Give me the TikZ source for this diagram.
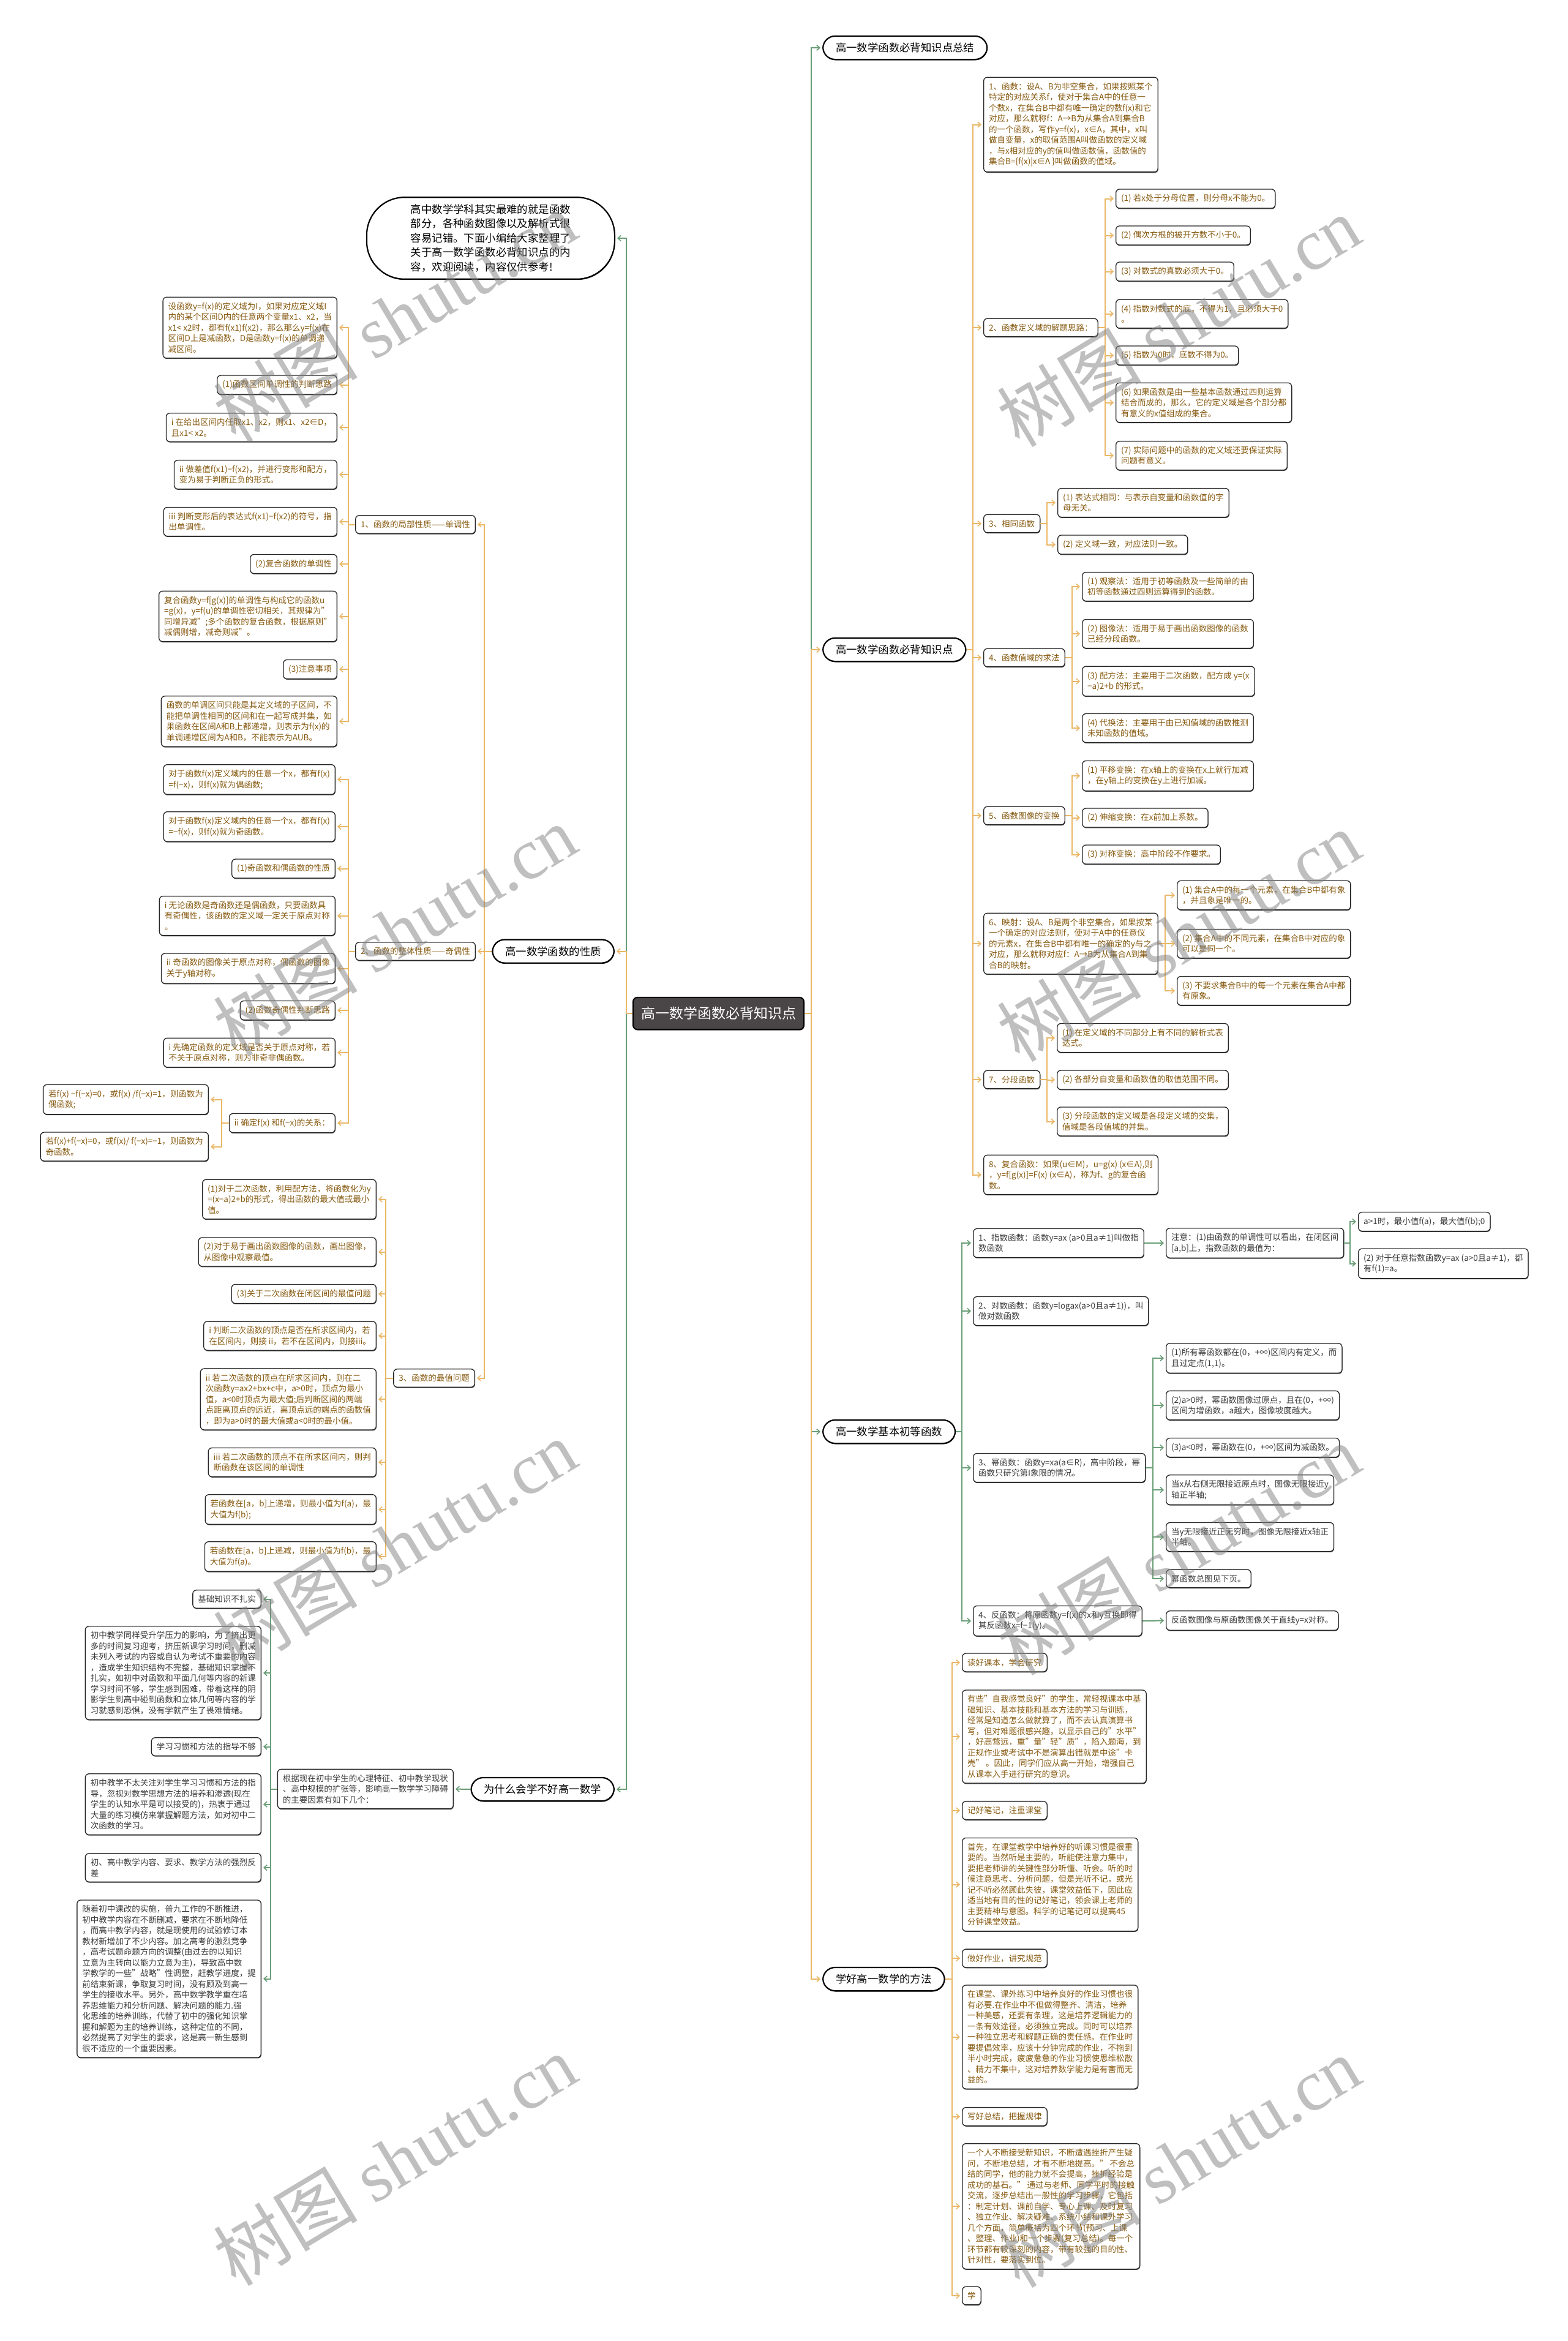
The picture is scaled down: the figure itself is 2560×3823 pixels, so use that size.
\documentclass[tikz,border=0pt]{standalone}
\usepackage{fontspec}
\setmainfont{Noto Sans CJK SC}
\newfontfamily\wmserif{Liberation Serif}
\usetikzlibrary{arrows.meta,shadows}
\definecolor{oline}{HTML}{EAB868}
\definecolor{gline}{HTML}{6A9E77}
\definecolor{otext}{HTML}{875A10}
\definecolor{gtext}{HTML}{3A3A3A}
\definecolor{rootfill}{HTML}{4A4546}
\tikzset{
 shad/.style={drop shadow={shadow xshift=0.6pt, shadow yshift=-1.4pt, fill=black!75, opacity=1}},
 box/.style={shad, draw=black!85, line width=1.3pt, fill=white, rounded corners=6pt, align=left,
   font=\fontsize{13.5}{17.5}\selectfont, inner xsep=8.5pt, inner ysep=8.5pt},
 leafo/.style={box, text=otext},
 leafg/.style={box, text=gtext},
 lvlone/.style={shad, draw=black, line width=2.2pt, fill=white, rounded corners=20pt, text=black,
   font=\fontsize{17.4}{23.5}\selectfont, inner xsep=21pt, inner ysep=11pt},
 intronode/.style={lvlone, rounded corners=62pt, align=left, inner xsep=72pt, inner ysep=11.5pt},
 rootnode/.style={shad, draw=black, line width=2pt, fill=rootfill, rounded corners=7pt, text=white,
   font=\fontsize{23}{28}\selectfont, inner xsep=13pt, inner ysep=15.5pt},
 oarr/.style={draw=oline, line width=2pt, shorten >=3pt, -{Straight Barb[length=5pt,width=9pt,line width=1.6pt]}},
 garr/.style={draw=gline, line width=2pt, shorten >=3pt, -{Straight Barb[length=5pt,width=9pt,line width=1.6pt]}},
 wmark/.style={text=black!50, text opacity=0.5, font=\fontsize{118}{118}\selectfont, rotate=31, inner sep=0pt}
}
\begin{document}
\begin{tikzpicture}[x=1pt,y=-1pt]
\useasboundingbox (0,0) rectangle (2560,3823);
\fill[white] (0,0) rectangle (2560,3823);

% ---------- root and first level ----------
\node[rootnode] (root) at (1173.5,1655) {高一数学函数必背知识点};
\node[lvlone, anchor=west] (t1) at (1343,78) {高一数学函数必背知识点总结};
\node[lvlone, anchor=west] (b2) at (1343,1061) {高一数学函数必背知识点};
\node[lvlone, anchor=west] (b3) at (1343,2338) {高一数学基本初等函数};
\node[lvlone, anchor=west] (b4) at (1343,3232) {学好高一数学的方法};
\node[intronode, anchor=east] (intro) at (1005,389) {高中数学学科其实最难的就是函数\\部分，各种函数图像以及解析式很\\容易记错。下面小编给大家整理了\\关于高一数学函数必背知识点的内\\容，欢迎阅读，内容仅供参考!};
\node[lvlone, anchor=east] (pp) at (1004,1553.5) {高一数学函数的性质};
\node[lvlone, anchor=east] (ww) at (1004,2922) {为什么会学不好高一数学};

% ---------- 必背知识点 ----------
\node[leafo, anchor=west] (n1) at (1606,203.5) {1、函数：设A、B为非空集合，如果按照某个\\特定的对应关系f，使对于集合A中的任意一\\个数x，在集合B中都有唯一确定的数f(x)和它\\对应，那么就称f：A→B为从集合A到集合B\\的一个函数，写作y=f(x)，x∈A，其中，x叫\\做自变量，x的取值范围A叫做函数的定义域\\，与x相对应的y的值叫做函数值，函数值的\\集合B=\{f(x)|x∈A \}叫做函数的值域。};
\node[leafo, anchor=west] (n2) at (1606,535) {2、函数定义域的解题思路：};
\node[leafo, anchor=west] (n2a) at (1822,324.5) {(1) 若x处于分母位置，则分母x不能为0。};
\node[leafo, anchor=west] (n2b) at (1822,384.5) {(2) 偶次方根的被开方数不小于0。};
\node[leafo, anchor=west] (n2c) at (1822,443.5) {(3) 对数式的真数必须大于0。};
\node[leafo, anchor=west] (n2d) at (1822,512.5) {(4) 指数对数式的底，不得为1，且必须大于0\\。};
\node[leafo, anchor=west] (n2e) at (1822,580.5) {(5) 指数为0时，底数不得为0。};
\node[leafo, anchor=west] (n2f) at (1822,657.5) {(6) 如果函数是由一些基本函数通过四则运算\\结合而成的，那么，它的定义域是各个部分都\\有意义的x值组成的集合。};
\node[leafo, anchor=west] (n2g) at (1822,744) {(7) 实际问题中的函数的定义域还要保证实际\\问题有意义。};
\node[leafo, anchor=west] (n3) at (1606,855) {3、相同函数};
\node[leafo, anchor=west] (n3a) at (1727,821) {(1) 表达式相同：与表示自变量和函数值的字\\母无关。};
\node[leafo, anchor=west] (n3b) at (1727,889.5) {(2) 定义域一致，对应法则一致。};
\node[leafo, anchor=west] (n4) at (1606,1074) {4、函数值域的求法};
\node[leafo, anchor=west] (n4a) at (1767,958) {(1) 观察法：适用于初等函数及一些简单的由\\初等函数通过四则运算得到的函数。};
\node[leafo, anchor=west] (n4b) at (1767,1035) {(2) 图像法：适用于易于画出函数图像的函数\\已经分段函数。};
\node[leafo, anchor=west] (n4c) at (1767,1112.5) {(3) 配方法：主要用于二次函数，配方成 y=(x\\−a)2+b 的形式。};
\node[leafo, anchor=west] (n4d) at (1767,1189) {(4) 代换法：主要用于由已知值域的函数推测\\未知函数的值域。};
\node[leafo, anchor=west] (n5) at (1606,1332) {5、函数图像的变换};
\node[leafo, anchor=west] (n5a) at (1767,1267) {(1) 平移变换：在x轴上的变换在x上就行加减\\，在y轴上的变换在y上进行加减。};
\node[leafo, anchor=west] (n5b) at (1767,1335.5) {(2) 伸缩变换：在x前加上系数。};
\node[leafo, anchor=west] (n5c) at (1767,1395.5) {(3) 对称变换：高中阶段不作要求。};
\node[leafo, anchor=west] (n6) at (1606,1541) {6、映射：设A、B是两个非空集合，如果按某\\一个确定的对应法则f，使对于A中的任意仪\\的元素x，在集合B中都有唯一的确定的y与之\\对应，那么就称对应f：A→B为从集合A到集\\合B的映射。};
\node[leafo, anchor=west] (n6a) at (1922,1462) {(1) 集合A中的每一个元素，在集合B中都有象\\，并且象是唯一的。};
\node[leafo, anchor=west] (n6b) at (1922,1541) {(2) 集合A中的不同元素，在集合B中对应的象\\可以是同一个。};
\node[leafo, anchor=west] (n6c) at (1922,1618) {(3) 不要求集合B中的每一个元素在集合A中都\\有原象。};
\node[leafo, anchor=west] (n7) at (1606,1763) {7、分段函数};
\node[leafo, anchor=west] (n7a) at (1726,1695) {(1) 在定义域的不同部分上有不同的解析式表\\达式。};
\node[leafo, anchor=west] (n7b) at (1726,1763.5) {(2) 各部分自变量和函数值的取值范围不同。};
\node[leafo, anchor=west] (n7c) at (1726,1831.5) {(3) 分段函数的定义域是各段定义域的交集，\\值域是各段值域的并集。};
\node[leafo, anchor=west] (n8) at (1606,1918.5) {8、复合函数：如果(u∈M)，u=g(x) (x∈A),则\\，y=f[g(x)]=F(x) (x∈A)，称为f、g的复合函\\数。};

% ---------- 基本初等函数 ----------
\node[leafg, anchor=west] (g1) at (1589,2030) {1、指数函数：函数y=ax (a>0且a≠1)叫做指\\数函数};
\node[leafg, anchor=west] (g1n) at (1904,2030) {注意：(1)由函数的单调性可以看出，在闭区间\\{[}a,b{]}上，指数函数的最值为：};
\node[leafg, anchor=west] (g1a) at (2218,1995) {a>1时，最小值f(a)，最大值f(b);0};
\node[leafg, anchor=west] (g1b) at (2218,2063.5) {(2) 对于任意指数函数y=ax (a>0且a≠1)，都\\有f(1)=a。};
\node[leafg, anchor=west] (g2) at (1589,2141) {2、对数函数：函数y=logax(a>0且a≠1))，叫\\做对数函数};
\node[leafg, anchor=west] (g3) at (1589,2397) {3、幂函数：函数y=xa(a∈R)，高中阶段，幂\\函数只研究第I象限的情况。};
\node[leafg, anchor=west] (g3a) at (1904,2218) {(1)所有幂函数都在(0，+∞)区间内有定义，而\\且过定点(1,1)。};
\node[leafg, anchor=west] (g3b) at (1904,2295) {(2)a>0时，幂函数图像过原点，且在(0，+∞)\\区间为增函数，a越大，图像坡度越大。};
\node[leafg, anchor=west] (g3c) at (1904,2364) {(3)a<0时，幂函数在(0，+∞)区间为减函数。};
\node[leafg, anchor=west] (g3d) at (1904,2433) {当x从右侧无限接近原点时，图像无限接近y\\轴正半轴;};
\node[leafg, anchor=west] (g3e) at (1904,2510) {当y无限接近正无穷时，图像无限接近x轴正\\半轴。};
\node[leafg, anchor=west] (g3f) at (1904,2578) {幂函数总图见下页。};
\node[leafg, anchor=west] (g4) at (1589,2647) {4、反函数：将原函数y=f(x)的x和y互换即得\\其反函数x=f−1(y)。};
\node[leafg, anchor=west] (g4n) at (1904,2646.5) {反函数图像与原函数图像关于直线y=x对称。};

% ---------- 学好高一数学的方法 ----------
\node[leafo, anchor=west] (s1) at (1571,2715) {读好课本，学会研究};
\node[leafo, anchor=west] (s2) at (1571,2836) {有些"自我感觉良好"的学生，常轻视课本中基\\础知识、基本技能和基本方法的学习与训练，\\经常是知道怎么做就算了，而不去认真演算书\\写，但对难题很感兴趣，以显示自己的"水平"\\，好高骛远，重"量"轻"质"，陷入题海，到\\正规作业或考试中不是演算出错就是中途"卡\\壳" 。因此，同学们应从高一开始，增强自己\\从课本入手进行研究的意识。};
\node[leafo, anchor=west] (s3) at (1571,2956.5) {记好笔记，注重课堂};
\node[leafo, anchor=west] (s4) at (1571,3077.5) {首先，在课堂教学中培养好的听课习惯是很重\\要的。当然听是主要的，听能使注意力集中，\\要把老师讲的关键性部分听懂、听会。听的时\\候注意思考、分析问题，但是光听不记，或光\\记不听必然顾此失彼，课堂效益低下，因此应\\适当地有目的性的记好笔记，领会课上老师的\\主要精神与意图。科学的记笔记可以提高45\\分钟课堂效益。};
\node[leafo, anchor=west] (s5) at (1571,3198) {做好作业，讲究规范};
\node[leafo, anchor=west] (s6) at (1571,3326.5) {在课堂、课外练习中培养良好的作业习惯也很\\有必要.在作业中不但做得整齐、清洁，培养\\一种美感，还要有条理，这是培养逻辑能力的\\一条有效途径，必须独立完成。同时可以培养\\一种独立思考和解题正确的责任感。在作业时\\要提倡效率，应该十分钟完成的作业，不拖到\\半小时完成，疲疲惫惫的作业习惯使思维松散\\、精力不集中，这对培养数学能力是有害而无\\益的。};
\node[leafo, anchor=west] (s7) at (1571,3456.5) {写好总结，把握规律};
\node[leafo, anchor=west] (s8) at (1571,3603) {一个人不断接受新知识，不断遭遇挫折产生疑\\问，不断地总结，才有不断地提高。" 不会总\\结的同学，他的能力就不会提高，挫折经验是\\成功的基石。" 通过与老师、同学平时的接触\\交流，逐步总结出一般性的学习步骤，它包括\\：制定计划、课前自学、专心上课、及时复习\\、独立作业、解决疑难、系统小结和课外学习\\几个方面，简单概括为四个环节(预习、上课\\、整理、作业)和一个步骤(复习总结)。每一个\\环节都有较深刻的内容，带有较强的目的性、\\针对性，要落实到位。};
\node[leafo, anchor=west] (s9) at (1571,3749) {学};

% ---------- 函数的性质 (left) ----------
\node[leafo, anchor=east] (l1) at (777,856.5) {1、函数的局部性质——单调性};
\node[leafo, anchor=east] (l1a) at (551,535) {设函数y=f(x)的定义域为I，如果对应定义域I\\内的某个区间D内的任意两个变量x1、x2，当\\x1< x2时，都有f(x1)f(x2)，那么那么y=f(x)在\\区间D上是减函数，D是函数y=f(x)的单调递\\减区间。};
\node[leafo, anchor=east] (l1b) at (551,628.5) {(1)函数区间单调性的判断思路};
\node[leafo, anchor=east] (l1c) at (551,698) {i 在给出区间内任取x1、x2，则x1、x2∈D，\\且x1< x2。};
\node[leafo, anchor=east] (l1d) at (551,775) {ii 做差值f(x1)−f(x2)，并进行变形和配方，\\变为易于判断正负的形式。};
\node[leafo, anchor=east] (l1e) at (551,852) {iii 判断变形后的表达式f(x1)−f(x2)的符号，指\\出单调性。};
\node[leafo, anchor=east] (l1f) at (551,921) {(2)复合函数的单调性};
\node[leafo, anchor=east] (l1g) at (551,1006.5) {复合函数y=f[g(x)]的单调性与构成它的函数u\\=g(x)，y=f(u)的单调性密切相关，其规律为"\\同增异减";多个函数的复合函数，根据原则"\\减偶则增，减奇则减"。};
\node[leafo, anchor=east] (l1h) at (551,1093) {(3)注意事项};
\node[leafo, anchor=east] (l1i) at (551,1178) {函数的单调区间只能是其定义域的子区间，不\\能把单调性相同的区间和在一起写成并集，如\\果函数在区间A和B上都递增，则表示为f(x)的\\单调递增区间为A和B，不能表示为AUB。};

\node[leafo, anchor=east] (l2) at (777,1553.5) {2、函数的整体性质——奇偶性};
\node[leafo, anchor=east] (l2a) at (548,1273) {对于函数f(x)定义域内的任意一个x，都有f(x)\\=f(−x)，则f(x)就为偶函数;};
\node[leafo, anchor=east] (l2b) at (548,1350) {对于函数f(x)定义域内的任意一个x，都有f(x)\\=−f(x)，则f(x)就为奇函数。};
\node[leafo, anchor=east] (l2c) at (548,1418.5) {(1)奇函数和偶函数的性质};
\node[leafo, anchor=east] (l2d) at (548,1495.5) {i 无论函数是奇函数还是偶函数，只要函数具\\有奇偶性，该函数的定义域一定关于原点对称\\。};
\node[leafo, anchor=east] (l2e) at (548,1581.5) {ii 奇函数的图像关于原点对称，偶函数的图像\\关于y轴对称。};
\node[leafo, anchor=east] (l2f) at (548,1650) {(2)函数奇偶性判断思路};
\node[leafo, anchor=east] (l2g) at (548,1719) {i 先确定函数的定义域是否关于原点对称，若\\不关于原点对称，则为非奇非偶函数。};
\node[leafo, anchor=east] (l2h) at (548,1834) {ii 确定f(x) 和f(−x)的关系：};
\node[leafo, anchor=east] (l2h1) at (341,1795.5) {若f(x) −f(−x)=0，或f(x) /f(−x)=1，则函数为\\偶函数;};
\node[leafo, anchor=east] (l2h2) at (341,1872.5) {若f(x)+f(−x)=0，或f(x)/ f(−x)=−1，则函数为\\奇函数。};

\node[leafo, anchor=east] (l3) at (776,2250.5) {3、函数的最值问题};
\node[leafo, anchor=east] (l3a) at (615,1958.5) {(1)对于二次函数，利用配方法，将函数化为y\\=(x−a)2+b的形式，得出函数的最大值或最小\\值。};
\node[leafo, anchor=east] (l3b) at (615,2044.5) {(2)对于易于画出函数图像的函数，画出图像，\\从图像中观察最值。};
\node[leafo, anchor=east] (l3c) at (615,2113) {(3)关于二次函数在闭区间的最值问题};
\node[leafo, anchor=east] (l3d) at (615,2181.5) {i 判断二次函数的顶点是否在所求区间内，若\\在区间内，则接 ii，若不在区间内，则接iii。};
\node[leafo, anchor=east] (l3e) at (615,2285) {ii 若二次函数的顶点在所求区间内，则在二\\次函数y=ax2+bx+c中，a>0时，顶点为最小\\值，a<0时顶点为最大值;后判断区间的两端\\点距离顶点的远近，离顶点远的端点的函数值\\，即为a>0时的最大值或a<0时的最小值。};
\node[leafo, anchor=east] (l3f) at (615,2388) {iii 若二次函数的顶点不在所求区间内，则判\\断函数在该区间的单调性};
\node[leafo, anchor=east] (l3g) at (615,2465) {若函数在[a，b]上递增，则最小值为f(a)，最\\大值为f(b);};
\node[leafo, anchor=east] (l3h) at (615,2542) {若函数在[a，b]上递减，则最小值为f(b)，最\\大值为f(a)。};

% ---------- 为什么会学不好 (left) ----------
\node[leafg, anchor=east] (w0) at (741,2921.5) {根据现在初中学生的心理特征、初中教学现状\\、高中规模的扩张等，影响高一数学学习障碍\\的主要因素有如下几个：};
\node[leafg, anchor=east] (w1) at (427,2611.5) {基础知识不扎实};
\node[leafg, anchor=east] (w2) at (427,2732) {初中教学同样受升学压力的影响，为了挤出更\\多的时间复习迎考，挤压新课学习时间，删减\\未列入考试的内容或自认为考试不重要的内容\\，造成学生知识结构不完整，基础知识掌握不\\扎实，如初中对函数和平面几何等内容的新课\\学习时间不够，学生感到困难，带着这样的阴\\影学生到高中碰到函数和立体几何等内容的学\\习就感到恐惧，没有学就产生了畏难情绪。};
\node[leafg, anchor=east] (w3) at (427,2852.5) {学习习惯和方法的指导不够};
\node[leafg, anchor=east] (w4) at (427,2946.5) {初中教学不太关注对学生学习习惯和方法的指\\导，忽视对数学思想方法的培养和渗透(现在\\学生的认知水平是可以接受的)，热衷于通过\\大量的练习模仿来掌握解题方法，如对初中二\\次函数的学习。};
\node[leafg, anchor=east] (w5) at (427,3050) {初、高中教学内容、要求、教学方法的强烈反\\差};
\node[leafg, anchor=east] (w6) at (427,3231.5) {随着初中课改的实施，普九工作的不断推进，\\初中教学内容在不断删减，要求在不断地降低\\，而高中教学内容，就是现使用的试验修订本\\教材新增加了不少内容。加之高考的激烈竞争\\，高考试题命题方向的调整(由过去的以知识\\立意为主转向以能力立意为主)，导致高中数\\学教学的一些"战略"性调整，赶教学进度，提\\前结束新课，争取复习时间，没有顾及到高一\\学生的接收水平。另外，高中数学教学重在培\\养思维能力和分析问题、解决问题的能力.强\\化思维的培养训练，代替了初中的强化知识掌\\握和解题为主的培养训练，这种定位的不同，\\必然提高了对学生的要求，这是高一新生感到\\很不适应的一个重要因素。};

% ---------- connectors: root ----------
\draw[garr] (root.east) -- ++(11,0) |- (t1.west);
\draw[garr] (root.east) -- ++(11,0) |- (b3.west);
\draw[oarr] (root.east) -- ++(11,0) |- (b2.west);
\draw[oarr] (root.east) -- ++(11,0) |- (b4.west);
\draw[garr] (root.west) -- ++(-10,0) |- (intro.east);
\draw[garr] (root.west) -- ++(-10,0) |- (ww.east);
\draw[oarr] (root.west) -- ++(-10,0) |- (pp.east);

% ---------- connectors: 必背知识点 ----------
\foreach \c in {n1,n2,n3,n4,n5,n6,n7,n8} \draw[oarr] (b2.east) -- ++(10,0) |- (\c.west);
\foreach \c in {n2a,n2b,n2c,n2d,n2e,n2f,n2g} \draw[oarr] (n2.east) -- ++(11,0) |- (\c.west);
\foreach \c in {n3a,n3b} \draw[oarr] (n3.east) -- ++(11,0) |- (\c.west);
\foreach \c in {n4a,n4b,n4c,n4d} \draw[oarr] (n4.east) -- ++(11,0) |- (\c.west);
\foreach \c in {n5a,n5b,n5c} \draw[oarr] (n5.east) -- ++(11,0) |- (\c.west);
\foreach \c in {n6a,n6b,n6c} \draw[oarr] (n6.east) -- ++(11,0) |- (\c.west);
\foreach \c in {n7a,n7b,n7c} \draw[oarr] (n7.east) -- ++(11,0) |- (\c.west);

% ---------- connectors: 基本初等函数 ----------
\foreach \c in {g1,g2,g3,g4} \draw[garr] (b3.east) -- ++(10,0) |- (\c.west);
\draw[garr] (g1.east) -- (g1n.west);
\foreach \c in {g1a,g1b} \draw[garr] (g1n.east) -- ++(10,0) |- (\c.west);
\foreach \c in {g3a,g3b,g3c,g3d,g3e,g3f} \draw[garr] (g3.east) -- ++(12,0) |- (\c.west);
\draw[garr] (g4.east) -- (g4n.west);

% ---------- connectors: 学好 ----------
\foreach \c in {s1,s2,s3,s4,s5,s6,s7,s8,s9} \draw[oarr] (b4.east) -- ++(11,0) |- (\c.west);

% ---------- connectors: 性质 ----------
\foreach \c in {l1,l2,l3} \draw[oarr] (pp.west) -- ++(-12,0) |- (\c.east);
\foreach \c in {l1a,l1b,l1c,l1d,l1e,l1f,l1g,l1h,l1i} \draw[oarr] (l1.west) -- ++(-11,0) |- (\c.east);
\foreach \c in {l2a,l2b,l2c,l2d,l2e,l2f,l2g,l2h} \draw[oarr] (l2.west) -- ++(-11,0) |- (\c.east);
\foreach \c in {l2h1,l2h2} \draw[oarr] (l2h.west) -- ++(-12,0) |- (\c.east);
\foreach \c in {l3a,l3b,l3c,l3d,l3e,l3f,l3g,l3h} \draw[oarr] (l3.west) -- ++(-12,0) |- (\c.east);

% ---------- connectors: 为什么 ----------
\draw[garr] (ww.west) -- (w0.east);
\foreach \c in {w1,w2,w3,w4,w5,w6} \draw[garr] (w0.west) -- ++(-11,0) |- (\c.east);

% ---------- watermarks ----------
\node[wmark] (wm1) at (645,517) {树图 {\wmserif shutu.cn}};
\node[wmark] (wm2) at (1925,524) {树图 {\wmserif shutu.cn}};
\node[wmark] (wm3) at (645,1519) {树图 {\wmserif shutu.cn}};
\node[wmark] (wm4) at (1925,1528) {树图 {\wmserif shutu.cn}};
\node[wmark] (wm5) at (645,2523) {树图 {\wmserif shutu.cn}};
\node[wmark] (wm6) at (1925,2530) {树图 {\wmserif shutu.cn}};
\node[wmark] (wm7) at (645,3527) {树图 {\wmserif shutu.cn}};
\node[wmark] (wm8) at (1925,3530) {树图 {\wmserif shutu.cn}};
\end{tikzpicture}
\end{document}
